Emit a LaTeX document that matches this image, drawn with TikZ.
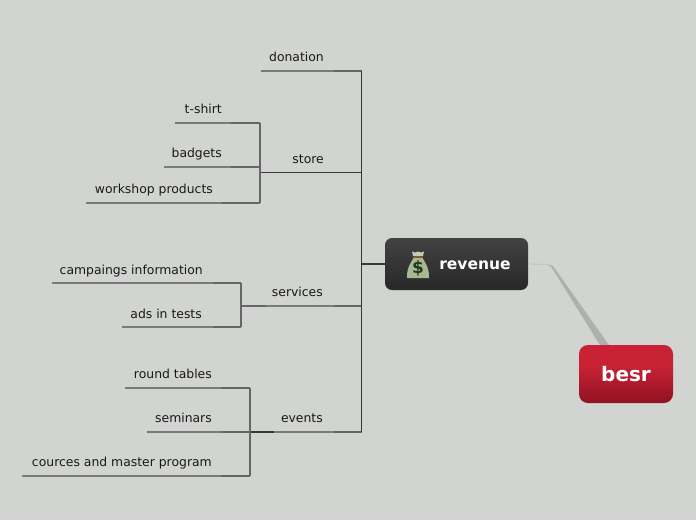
\documentclass[tikz,border=0pt]{standalone}
\usepackage{fontspec}
\setmainfont{DejaVu Sans}
\usetikzlibrary{calc, positioning}
\definecolor{paper}{HTML}{D2D4D1}
\definecolor{bagfill}{HTML}{A9B892}
\definecolor{bagdark}{HTML}{1F3A1C}
\definecolor{linkgrey}{HTML}{AEB0AD}
\definecolor{revtop}{HTML}{505050}
\definecolor{revmid}{HTML}{2A2A2A}
\definecolor{revlow}{HTML}{464646}
\definecolor{besrtop}{HTML}{C92235}
\definecolor{besrmid}{HTML}{8B1020}
\definecolor{besrlow}{HTML}{B32033}
\pgfdeclareverticalshading{revshade}{100bp}{color(0bp)=(revlow); color(16bp)=(revmid); color(30bp)=(revmid); color(100bp)=(revtop)}
\pgfdeclareverticalshading{besrshade}{100bp}{color(0bp)=(besrlow); color(8bp)=(besrlow); color(22bp)=(besrmid); color(58bp)=(besrtop); color(100bp)=(besrtop)}

\begin{document}
\begin{tikzpicture}[x=1pt, y=-1pt, font=\fontsize{12.4}{15}\selectfont,
	lab/.style={anchor=base east, inner sep=0pt, text=black!90},
	leaf/.style={line width=1.3pt, draw=black!52},
	twig/.style={line width=1.3pt, draw=black!60},
	trunk/.style={line width=1pt, draw=black!78},
	revbox/.style={rounded corners=7pt, shading=revshade, minimum width=143pt, minimum height=52pt, inner sep=0pt, text=white, font=\fontsize{15.5}{18}\selectfont\bfseries},
	besrbox/.style={rounded corners=9pt, shading=besrshade, minimum width=94pt, minimum height=58pt, inner sep=0pt, text=white, font=\fontsize{20}{24}\selectfont\bfseries}]
	\useasboundingbox[fill=paper] (0,0) rectangle (696,520);
	% central nodes
	\node[revbox] (revenue) at (456.5,264) {\hspace*{37pt}\raisebox{-5pt}[0pt][0pt]{revenue}};
	\node[besrbox] (besr) at (626,374) {\raisebox{-7.5pt}[0pt][0pt]{besr}};
	% tapered link
	\coordinate (bend) at (551,266.5);
	\fill[linkgrey] (revenue.east) .. controls (536,263.6) and (546,263.4) .. (bend) -- ($(besr.north west)+(21,0)$) -- ($(besr.north west)+(30,0)$) -- (553,266) .. controls (548,263) and (536,265) .. (revenue.east);
	% branches: name/text/text right/text rise/line y/left end/break/right end
	\foreach \p/\lab/\xt/\up/\yy/\xa/\xb/\xc in {
		donation/donation/324/10/71/261/334/361.5,
		tshirt/t-shirt/222/10/123/175/231/260,
		badgets/badgets/222/10/167/164/231/260,
		workshop/workshop products/213/10/203/86/222/260,
		store/store/324/9.5/172.5/284/334/361.5,
		campaings/campaings information/203/9/283/52/213/241,
		ads/ads in tests/202/9/327/122/213/241,
		services/services/323/10/306/266/334/361.5,
		tables/round tables/212/10/388/125/221/250,
		seminars/seminars/212/10/432/147/221/250,
		cources/cources and master program/212/10/476/22/221/250,
		events/events/323/10/432/274/334/361.5} {
		\node[lab] (\p) at (\xt,\yy-\up) {\lab};
		\coordinate (\p-a) at (\xa,\yy);
		\coordinate (\p-b) at (\xb,\yy);
		\coordinate (\p-c) at (\xc,\yy);
		\draw[leaf] (\p-a) -- (\p-b);
		\draw[twig] (\p-b) -- (\p-c);
	};
	% dark stubs
	\draw[trunk] (store-a) -- (store-c);
	\draw[trunk, line width=1.3pt] (events-a) -- (tables-c |- events-a);
	\draw[trunk, line width=1.3pt] (store-a) -- (tshirt-c |- store-a);
	\draw[twig] (services-a) -- (ads-c |- services-a);
	% brackets
	\draw[twig] (tshirt-c) -- (workshop-c);
	\draw[twig] (campaings-c) -- (ads-c);
	\draw[twig] (tables-c) -- (cources-c);
	\draw[trunk] (donation-c) -- (events-c);
	\coordinate (hub) at (361.5,264);
	\draw[line width=1.5pt, draw=black!78] (hub) -- (revenue.west);
	% money bag
	\begin{scope}[shift={(418,265)}]
		\fill[bagfill] (-4,-8) -- (-9,1) .. controls (-11,6) and (-11,10) .. (-11,13) -- (11,13) .. controls (11,10) and (11,6) .. (9,1) -- (4,-8) -- cycle;
		\fill[bagfill!70!white] (-6,-13.5) -- (-3,-12.5) -- (0,-13.5) -- (3,-12.5) -- (6,-13.5) -- (5,-9) -- (-5,-9) -- cycle;
		\fill[brown!70!black] (-4.5,-9.5) rectangle (4.5,-7.5);
		\node[inner sep=0pt, text=bagdark, font=\fontsize{17}{18}\selectfont\bfseries] (dollar) at (0,3) {\$};
	\end{scope}
\end{tikzpicture}
\end{document}
